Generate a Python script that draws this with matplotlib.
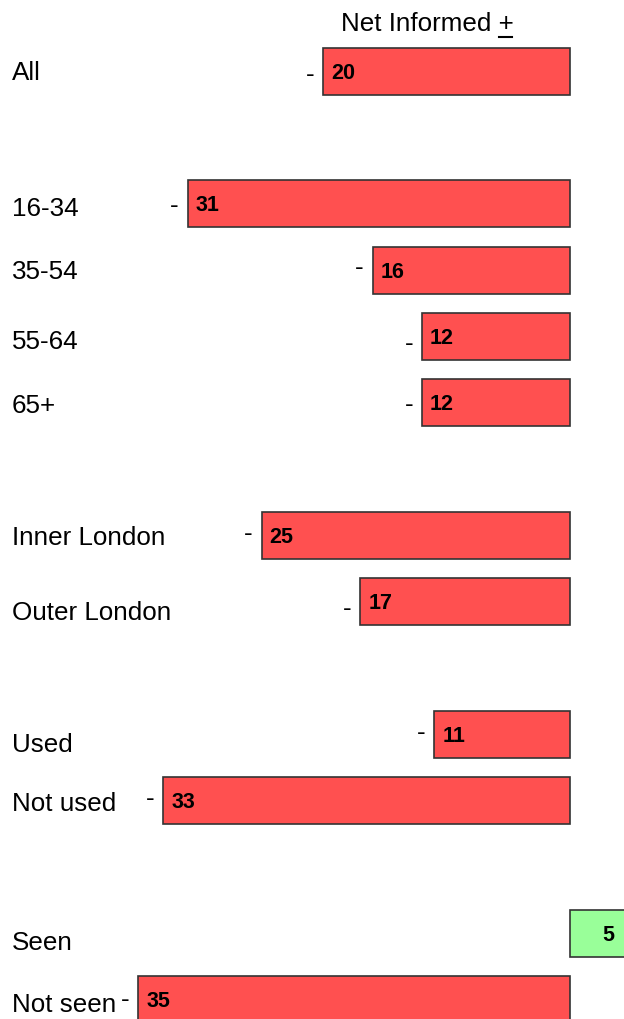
import matplotlib
matplotlib.use("Agg")
import matplotlib.pyplot as plt
from matplotlib.lines import Line2D

# net informed scores, one per group (negative = more uninformed)
groups = ["All", "16-34", "35-54", "55-64", "65+", "Inner London", "Outer London",
          "Used", "Not used", "Seen", "Not seen"]
net_scores = [-20, -31, -16, -12, -12, -25, -17, -11, -33, 5, -35]
# rows on the chart; blank rows separate the sections
rows = [0, 2, 3, 4, 5, 7, 8, 10, 11, 13, 14]
# the labels and minus signs do not sit exactly level with their bars in the original (px)
label_nudge = [0, 3, 0, 4, 1, 1, 9, 9, 1, 7, 3]
sign_nudge = [3, 1, -3, 7, 1, -2, 6, -2, -3, 0, -1]

RED = "#FF5050"
GREEN = "#99FF99"
EDGE = "#333333"
FONT = "Liberation Sans"

W, H = 624, 1020
px_per_unit = 12.33
zero_px = 570
row_px = 66.35
first_row_px = 72

fig = plt.figure(figsize=(W / 100, H / 100), dpi=100)
ax = fig.add_axes([0, 0, 1, 1])
ax.set_xlim(-zero_px / px_per_unit, (W - zero_px) / px_per_unit)
ax.set_ylim((H - first_row_px) / row_px, -first_row_px / row_px)
ax.axis("off")

colours = [GREEN if v > 0 else RED for v in net_scores]
ax.barh(rows, net_scores, height=47 / row_px, color=colours, edgecolor=EDGE, linewidth=1.2)

unit_x = 1 / px_per_unit
unit_y = 1 / row_px
for g, v, r, ln, sn in zip(groups, net_scores, rows, label_nudge, sign_nudge):
    # group label on the left
    ax.text(-558 / px_per_unit, r + (ln + 1) * unit_y, g, fontsize=18.7, family=FONT,
            ha="left", va="center")
    if v < 0:
        ax.text(v + 8 * unit_x, r + 1 * unit_y, str(-v), fontsize=15.5, family=FONT,
                fontweight="bold", ha="left", va="center")
        ax.text(v - 9 * unit_x, r + sn * unit_y, "-", fontsize=18.7, family=FONT,
                ha="right", va="center")
    else:
        ax.text(v * 0.62, r + 1 * unit_y, str(v), fontsize=15.5, family=FONT,
                fontweight="bold", ha="center", va="center")

# header with underlined plus sign
title = ax.text(-143 / px_per_unit, -48.5 * unit_y, "Net Informed +", fontsize=18.7,
                family=FONT, ha="center", va="center")
plus = ax.text(0, 0, "+", fontsize=18.7, family=FONT, alpha=0)
fig.canvas.draw()
renderer = fig.canvas.get_renderer()
tb = title.get_window_extent(renderer)
pw = plus.get_window_extent(renderer).width
uy = tb.y0 - 2
fig.add_artist(Line2D([(tb.x1 - pw + 1) / W, (tb.x1 - 1) / W], [uy / H, uy / H],
                      color="black", linewidth=1.5))
plus.remove()

fig.savefig("out.png", dpi=100)
